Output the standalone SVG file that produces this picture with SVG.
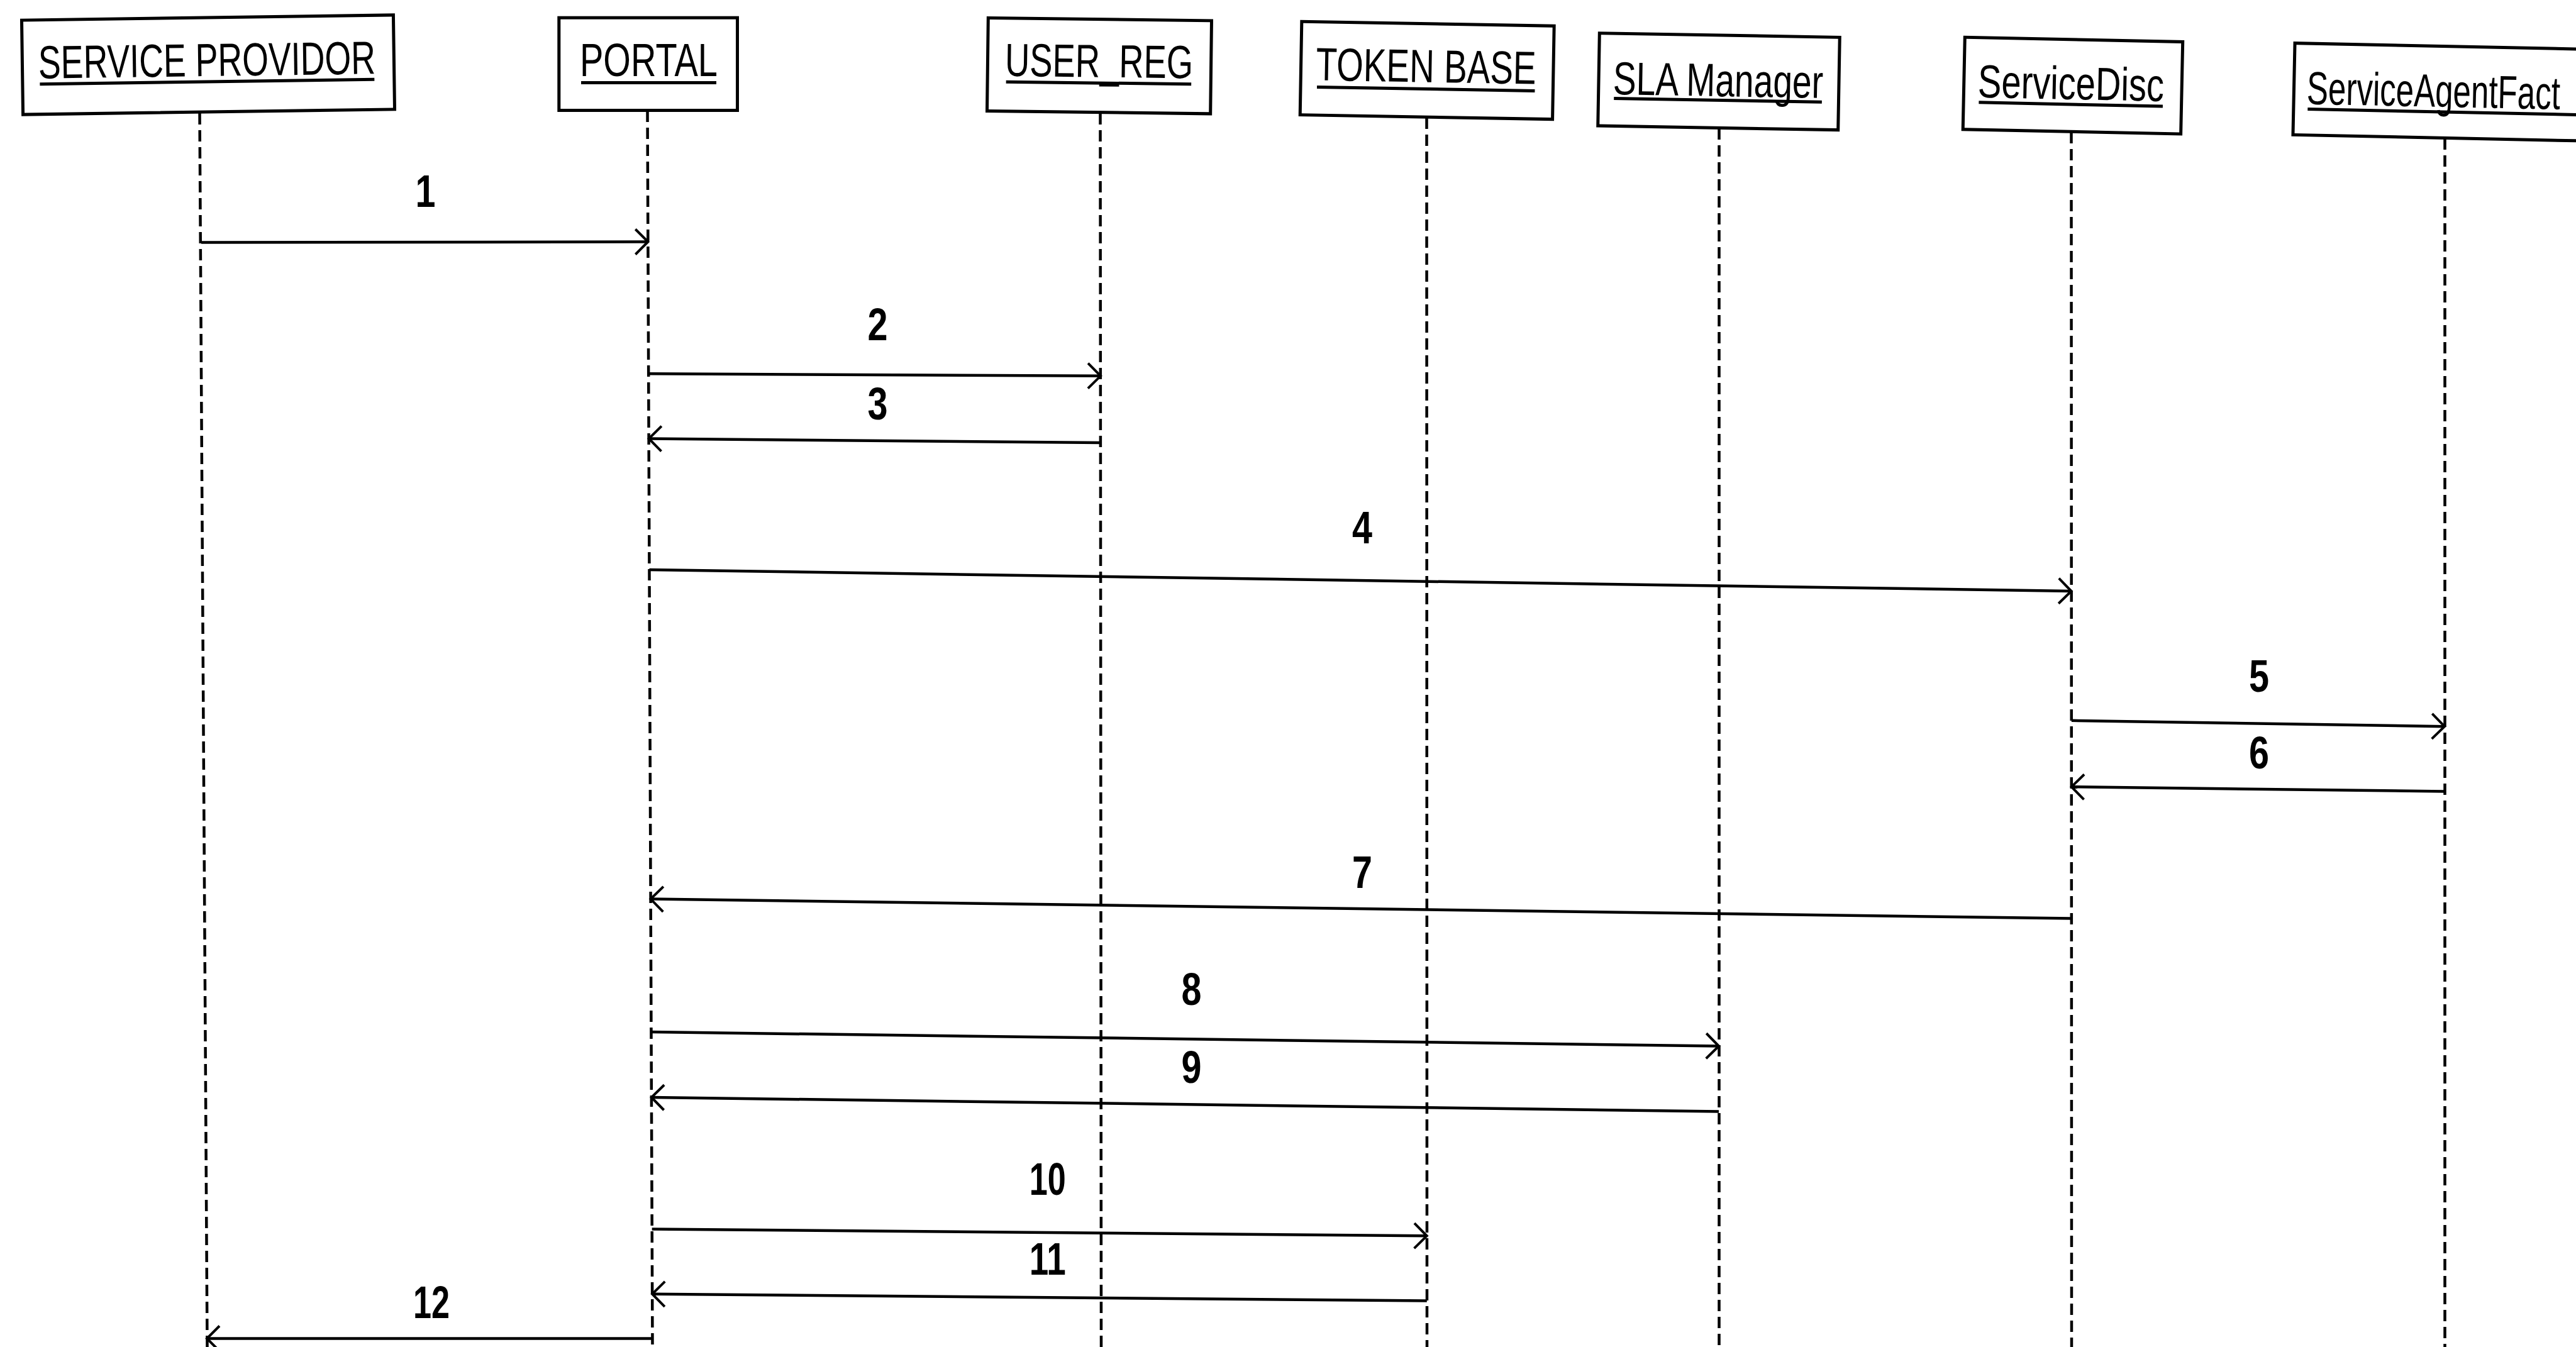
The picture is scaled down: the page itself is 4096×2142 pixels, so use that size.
<svg xmlns="http://www.w3.org/2000/svg" width="4096" height="2142" viewBox="0 0 4096 2142">
<style>
.box{fill:#fff;stroke:#000;stroke-width:5}
.hdr{font-family:"Liberation Sans Narrow","Liberation Sans",Arial,sans-serif;font-size:74px;fill:#000}
.hdr2{font-family:"Liberation Sans",Arial,sans-serif;font-size:74px;fill:#000}
.ul{stroke:#000;stroke-width:5;fill:none}
.life{stroke:#000;stroke-width:4.5;stroke-dasharray:18 9;fill:none}
.msg{stroke:#000;stroke-width:4.5;fill:none;marker-end:url(#open)}
.num{font-family:"Liberation Sans Narrow","Liberation Sans",Arial,sans-serif;font-weight:bold;font-size:72px;fill:#000}
</style>
<defs>
<marker id="open" markerUnits="userSpaceOnUse" markerWidth="40" markerHeight="50" viewBox="-30 -25 40 50" refX="0" refY="0" orient="auto" overflow="visible">
<path d="M-20,-20 L0,0 L-20,20" fill="none" stroke="#000" stroke-width="4"/>
</marker>
</defs>
<rect width="4096" height="2142" fill="#fff"/>

<g id="node-service-providor">
<line class="life" x1="317.5" y1="180" x2="329.5" y2="2142"/>
<g transform="rotate(-0.8 331 103)">
<rect class="box" x="35.5" y="28" width="591" height="150"/>
<text class="hdr" x="61" y="121" textLength="536" lengthAdjust="spacingAndGlyphs">SERVICE PROVIDOR</text>
<line class="ul" x1="63" y1="130" x2="595" y2="130"/>
</g>
</g>

<g id="node-portal">
<line class="life" x1="1029.5" y1="176" x2="1037.5" y2="2142"/>
<rect class="box" x="888.8" y="28.2" width="283.7" height="147.3"/>
<text class="hdr" x="922" y="121.3" textLength="219" lengthAdjust="spacingAndGlyphs">PORTAL</text>
<line class="ul" x1="924" y1="131.4" x2="1139" y2="131.4"/>
</g>

<g id="node-user-reg">
<line class="life" x1="1749.5" y1="180" x2="1751" y2="2142"/>
<g transform="rotate(0.7 1748 104.7)">
<rect class="box" x="1570.4" y="30.7" width="355.2" height="148"/>
<text class="hdr" x="1598" y="122.7" textLength="299" lengthAdjust="spacingAndGlyphs">USER_REG</text>
<line class="ul" x1="1600" y1="132" x2="1894.5" y2="132"/>
</g>
</g>

<g id="node-token-base">
<line class="life" x1="2268.5" y1="187" x2="2269" y2="2142"/>
<g transform="rotate(1.0 2269.3 111.9)">
<rect class="box" x="2068.5" y="37.7" width="401.4" height="148.4"/>
<text class="hdr" x="2092.5" y="130.7" textLength="350" lengthAdjust="spacingAndGlyphs">TOKEN BASE</text>
<line class="ul" x1="2094.5" y1="141.5" x2="2441" y2="141.5"/>
</g>
</g>

<g id="node-sla-manager">
<line class="life" x1="2733.5" y1="204" x2="2733.5" y2="2142"/>
<g transform="rotate(1.0 2733 129.6)">
<rect class="box" x="2542" y="56" width="382" height="147.3"/>
<text class="hdr" x="2565" y="153" textLength="334" lengthAdjust="spacingAndGlyphs">SLA Manager</text>
<line class="ul" x1="2566.7" y1="159.5" x2="2897.4" y2="159.5"/>
</g>
</g>

<g id="node-servicedisc">
<line class="life" x1="3293.5" y1="210" x2="3294" y2="2142"/>
<g transform="rotate(1.2 3296 136.1)">
<rect class="box" x="3122.7" y="62.8" width="346.5" height="146.6"/>
<text class="hdr" x="3145" y="158" textLength="296" lengthAdjust="spacingAndGlyphs">ServiceDisc</text>
<line class="ul" x1="3147" y1="166" x2="3439.6" y2="166"/>
</g>
</g>

<g id="node-serviceagentfact">
<line class="life" x1="3887.5" y1="220" x2="3887.5" y2="2142"/>
<g transform="rotate(1.2 3647.5 141.5)">
<rect class="box" x="3647.5" y="68.6" width="520" height="145.8"/>
<text class="hdr2" transform="translate(3668 165) scale(0.69 1)" x="0" y="0">ServiceAgentFact</text>
<line class="ul" x1="3670" y1="173" x2="4160" y2="173"/>
</g>
</g>

<g id="connectors">
<line class="msg" x1="320" y1="385.5" x2="1030.4" y2="384.5"/>
<line class="msg" x1="1031.3" y1="594.2" x2="1750" y2="597.8"/>
<line class="msg" x1="1750" y1="704" x2="1031.7" y2="697.5"/>
<line class="msg" x1="1032.5" y1="906" x2="3293.5" y2="940"/>
<line class="msg" x1="3293.8" y1="1145.8" x2="3887" y2="1155.2"/>
<line class="msg" x1="3887" y1="1258.4" x2="3293.8" y2="1251.2"/>
<line class="msg" x1="3293.8" y1="1460.6" x2="1034.6" y2="1429.6"/>
<line class="msg" x1="1035.5" y1="1641" x2="2733" y2="1663.5"/>
<line class="msg" x1="2733" y1="1767.5" x2="1035.9" y2="1745"/>
<line class="msg" x1="1036.7" y1="1954.5" x2="2268.8" y2="1965.3"/>
<line class="msg" x1="2268.8" y1="2068.5" x2="1037.1" y2="2057.7"/>
<line class="msg" x1="1037.4" y1="2128.5" x2="329" y2="2128.5"/>
</g>

<g id="labels">
<text class="num" x="660.5" y="328.5" textLength="32" lengthAdjust="spacingAndGlyphs">1</text>
<text class="num" x="1379.6" y="540.8" textLength="32" lengthAdjust="spacingAndGlyphs">2</text>
<text class="num" x="1379.6" y="667" textLength="32" lengthAdjust="spacingAndGlyphs">3</text>
<text class="num" x="2150" y="864.2" textLength="32" lengthAdjust="spacingAndGlyphs">4</text>
<text class="num" x="3576" y="1099.6" textLength="32" lengthAdjust="spacingAndGlyphs">5</text>
<text class="num" x="3576" y="1222.3" textLength="32" lengthAdjust="spacingAndGlyphs">6</text>
<text class="num" x="2150" y="1411.5" textLength="32" lengthAdjust="spacingAndGlyphs">7</text>
<text class="num" x="1878.5" y="1597.8" textLength="32" lengthAdjust="spacingAndGlyphs">8</text>
<text class="num" x="1878.5" y="1722" textLength="32" lengthAdjust="spacingAndGlyphs">9</text>
<text class="num" x="1636.7" y="1900.3" textLength="58" lengthAdjust="spacingAndGlyphs">10</text>
<text class="num" x="1636.7" y="2027.4" textLength="58" lengthAdjust="spacingAndGlyphs">11</text>
<text class="num" x="657" y="2096" textLength="58" lengthAdjust="spacingAndGlyphs">12</text>
</g>
</svg>
